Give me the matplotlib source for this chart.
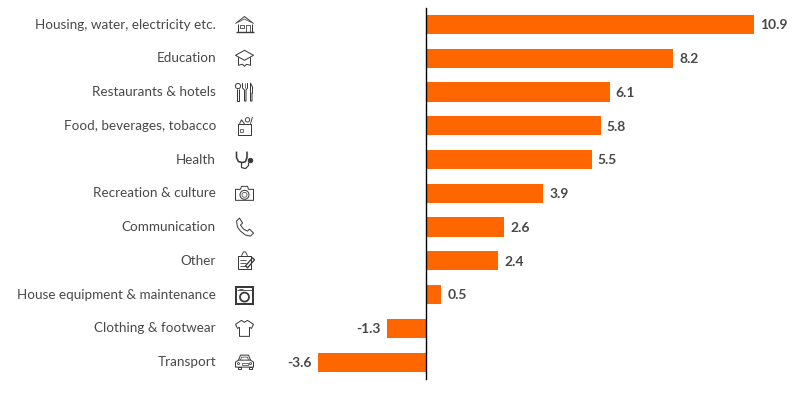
import matplotlib
matplotlib.use("Agg")
import matplotlib.pyplot as plt
from matplotlib.patches import Circle, Polygon, Rectangle
from matplotlib.transforms import Affine2D

plt.rcParams['font.family'] = ['Lato', 'DejaVu Sans']

categories = ["Housing, water, electricity etc.", "Education", "Restaurants & hotels",
              "Food, beverages, tobacco", "Health", "Recreation & culture", "Communication",
              "Other", "House equipment & maintenance", "Clothing & footwear", "Transport"]
values = [10.9, 8.2, 6.1, 5.8, 5.5, 3.9, 2.6, 2.4, 0.5, -1.3, -3.6]
icons = ["house", "cap", "cutlery", "bag", "stetho", "camera", "phone", "note", "washer", "shirt", "car"]

BAR = "#ff6600"
TXT = "#484848"
ICON = "#3a3a3a"
W, H = 800, 395
LW = 0.72  # icon strokes are given in pixels


def line(ax, tr, pts, lw=1.0, closed=False, fill="none"):
    ax.add_patch(Polygon(pts, closed=closed, fill=fill != "none", facecolor=fill, edgecolor=ICON,
                         lw=lw * LW, transform=tr, clip_on=False, joinstyle="round"))


def circ(ax, tr, x, y, r, lw=1.0, fill=False):
    ax.add_patch(Circle((x, y), r, fill=fill, facecolor=ICON, edgecolor=ICON, lw=lw * LW,
                        transform=tr, clip_on=False))


def rect(ax, tr, x, y, w, h, lw=1.0):
    ax.add_patch(Rectangle((x, y), w, h, fill=False, edgecolor=ICON, lw=lw * LW, transform=tr, clip_on=False))


# icons are drawn in local pixels around their centre, y pointing down
def draw_icon(ax, tr, name):
    if name == "house":
        line(ax, tr, [(-9, -1), (0, -8), (9, -1)])
        line(ax, tr, [(-7, -2), (0, -5.5), (7, -2)], 0.7)
        line(ax, tr, [(-7, -1), (-7, 7), (7, 7), (7, -1)])
        line(ax, tr, [(-9, 7.5), (9, 7.5)], 1.4)
        rect(ax, tr, -5, 0, 4, 3.5, 0.8)
        rect(ax, tr, 1, 0, 4, 7, 0.8)
    elif name == "cap":
        line(ax, tr, [(0, -8), (9, -3), (0, 2), (-9, -3)], closed=True)
        line(ax, tr, [(-6, -1), (-6, 7), (-2, 6), (0, 8), (2, 6), (6, 7), (6, -1)])
    elif name == "cutlery":
        circ(ax, tr, -6.5, -6, 2.6)
        line(ax, tr, [(-7.5, -3.5), (-7.5, 9), (-5.5, 9), (-5.5, -3.5)])
        line(ax, tr, [(-2, -9), (-2, -4), (0, -2), (0, 9), (1.5, 9), (1.5, -2), (3, -4), (3, -9)])
        line(ax, tr, [(0.5, -9), (0.5, -4)], 0.7)
        line(ax, tr, [(6, -9), (8, -5), (8, 1), (7.5, 1), (7.5, 9), (6, 9)], closed=True)
    elif name == "bag":
        line(ax, tr, [(-7, -2), (-7, 9), (6, 9), (6, -2)], closed=True)
        line(ax, tr, [(-5, -2), (-3, -6), (0, -2)])
        circ(ax, tr, 3, -6, 2.2, 0.9)
        line(ax, tr, [(6, -2), (8, -9)], 0.9)
        rect(ax, tr, -5, 3, 3, 3.5, 0.7)
    elif name == "stetho":
        line(ax, tr, [(-8, -8), (-8, -2), (-6, 2), (-2, 3), (1, 2), (2.5, -2), (2.5, -8)], 1.6)
        line(ax, tr, [(-3, 3), (-3, 8), (1, 9), (4, 6), (4, 3)], 1.2)
        circ(ax, tr, 6, 1, 2.2, 1.0, True)
    elif name == "camera":
        line(ax, tr, [(-9, -4), (-4, -4), (-3, -7), (3, -7), (4, -4), (9, -4), (9, 7), (-9, 7)], closed=True)
        circ(ax, tr, 0, 1.5, 4.5)
        circ(ax, tr, 0, 1.5, 2.5, 0.7)
    elif name == "phone":
        line(ax, tr, [(-8, -6), (-5, -9), (-2, -4), (-4, -2), (-1, 2), (3, 4), (5, 2), (9, 6), (6, 9),
                      (1, 8), (-4, 4), (-7, 0)], closed=True)
    elif name == "note":
        line(ax, tr, [(-7, -5), (6, -5), (6, 8), (-7, 8)], closed=True)
        line(ax, tr, [(-3, -5), (-1, -9), (1, -9), (3, -5)], 0.9)
        for yy in (-1, 2, 5):
            line(ax, tr, [(-5, yy), (1, yy)], 0.8)
        line(ax, tr, [(1, 5), (8, -3), (10, -1), (3, 7)], 1.3, closed=True)
    elif name == "washer":
        rect(ax, tr, -8.5, -8, 17, 17, 2.0)
        line(ax, tr, [(-8, -4.5), (8, -4.5)], 0.8)
        circ(ax, tr, 0, 2.5, 4.5, 1.8)
        line(ax, tr, [(-6, -6), (-2, -6)], 0.8)
    elif name == "shirt":
        line(ax, tr, [(-3, -8), (0, -6), (3, -8), (9, -4), (7, 0), (5, -1), (5, 8), (-5, 8), (-5, -1),
                      (-7, 0), (-9, -4)], closed=True)
    elif name == "car":
        line(ax, tr, [(-6, -2), (-4, -7), (4, -7), (6, -2)])
        line(ax, tr, [(-4, -2), (-3, -5), (3, -5), (4, -2)], 0.7)
        line(ax, tr, [(-9, 0), (-6, -2), (6, -2), (9, 0), (9, 5), (-9, 5)], closed=True)
        rect(ax, tr, -7, 5, 3, 2, 1.0)
        rect(ax, tr, 4, 5, 3, 2, 1.0)
        rect(ax, tr, -3, 1, 6, 2, 0.7)
        circ(ax, tr, -6, 1.5, 1, 0.8)
        circ(ax, tr, 6, 1.5, 1, 0.8)


fig = plt.figure(figsize=(W / 100, H / 100), dpi=100)
ax = fig.add_axes([0, (H - 379) / H, 1, (379 - 8) / H])

ypos = list(range(len(categories)))
ax.barh(ypos, values, height=0.57, color=BAR, edgecolor="none")

ax.set_xlim(-426 / 30.1, (W - 426) / 30.1)
ax.set_ylim(10.5, -0.49)
for s in ["top", "right", "bottom"]:
    ax.spines[s].set_visible(False)
ax.spines["left"].set_position(("data", 0))
ax.spines["left"].set_color("black")
ax.spines["left"].set_linewidth(1.0)
ax.set_xticks([])
ax.set_yticks([])
ax.patch.set_alpha(0)

blend = ax.get_yaxis_transform()
for i, (cat, val) in enumerate(zip(categories, values)):
    ax.text(216 / W, i, cat, transform=blend, ha="right", va="center", fontsize=9.7, color=TXT)
    off = 4.5 if val >= 0 else -4.5
    ax.annotate(f"{val:.1f}", (val, i), xytext=(off, -0.5), textcoords="offset points",
                ha="left" if val >= 0 else "right", va="center",
                fontsize=10, fontweight="bold", color=TXT)
    cy = ax.transData.transform((0, i))[1]
    tr = Affine2D().scale(1, -1).translate(244.5, cy)
    draw_icon(ax, tr, icons[i])

fig.savefig("out.png", dpi=100, facecolor="white")
